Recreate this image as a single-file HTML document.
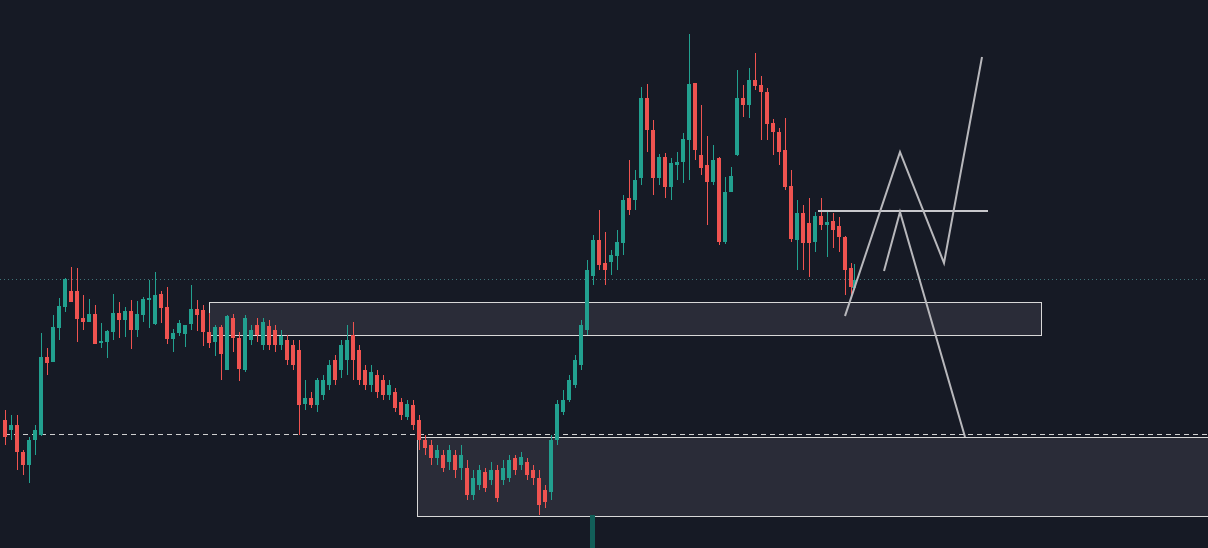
<!DOCTYPE html>
<html><head><meta charset="utf-8"><style>
html,body{margin:0;padding:0;background:#161a25;overflow:hidden}
svg{display:block}
</style></head><body>
<svg width="1208" height="548" xmlns="http://www.w3.org/2000/svg">
<rect width="1208" height="548" fill="#161a25"/>
<line x1="0" y1="279.5" x2="1208" y2="279.5" stroke="#3f7378" stroke-width="1" stroke-dasharray="1,3"/>
<rect x="209.5" y="302.5" width="832" height="33" fill="#2a2c38" stroke="#d8d8d8" stroke-width="1"/>
<rect x="417.5" y="437.5" width="791" height="79" fill="#2a2c38" stroke="#d8d8d8" stroke-width="1"/>
<line x1="5" y1="434.5" x2="1208" y2="434.5" stroke="#d0d0d0" stroke-width="1" stroke-dasharray="5,4"/>
<rect x="590" y="515" width="5" height="33" fill="#125e58"/>

<path fill="none" stroke="#22a08f" stroke-width="1" d="M11.5 415V440M29.5 437V483M35.5 425V455M41.5 333V436M53.5 315V362M59.5 298V340M65.5 278V312M89.5 299V322M101.5 323V348M107.5 330V358M113.5 294V340M125.5 307V337M137.5 301V337M143.5 297V322M149.5 280V328M155.5 272V325M173.5 329V352M179.5 320V336M185.5 325V347M191.5 285V330M215.5 325V356M227.5 315V370M245.5 315V372M251.5 325V345M263.5 318V350M281.5 330V350M305.5 380V410M317.5 378V412M323.5 375V400M329.5 360V390M341.5 340V378M347.5 325V375M371.5 365V392M389.5 380V400M407.5 400V420M437.5 445V465M449.5 445V470M461.5 445V480M473.5 470V500M479.5 465V490M491.5 462V485M503.5 460V485M509.5 455V482M521.5 452V470M551.5 435V500M557.5 400V445M563.5 390V415M569.5 375V402M575.5 355V388M581.5 320V370M587.5 260V335M593.5 235V285M611.5 250V275M617.5 230V270M623.5 195V255M635.5 170V210M641.5 87V185M659.5 154V185M671.5 158V200M677.5 152V180M683.5 133V183M689.5 34V180M713.5 145V185M725.5 177V244M731.5 167V192M737.5 70V156M749.5 68V118M797.5 200V270M815.5 212V252M827.5 210V257M854.5 264V290"/>
<path fill="#22a08f" d="M9 425h4V430h-4zM27 440h4V465h-4zM33 430h4V440h-4zM39 357h4V435h-4zM51 327h4V362h-4zM57 306h4V328h-4zM63 279h4V307h-4zM87 314h4V322h-4zM99 341h4V343h-4zM105 331h4V342h-4zM111 313h4V332h-4zM123 311h4V320h-4zM135 314h4V330h-4zM141 299h4V315h-4zM147 298h4V300h-4zM153 295h4V324h-4zM171 333h4V339h-4zM177 323h4V333h-4zM183 325h4V334h-4zM189 309h4V324h-4zM213 327h4V342h-4zM225 316h4V370h-4zM243 318h4V370h-4zM249 330h4V340h-4zM261 322h4V345h-4zM279 336h4V345h-4zM303 398h4V404h-4zM315 380h4V405h-4zM321 380h4V395h-4zM327 365h4V385h-4zM339 345h4V370h-4zM345 340h4V360h-4zM369 372h4V385h-4zM387 385h4V395h-4zM405 404h4V417h-4zM435 450h4V458h-4zM447 450h4V462h-4zM459 455h4V468h-4zM471 478h4V495h-4zM477 470h4V485h-4zM489 470h4V480h-4zM501 468h4V480h-4zM507 460h4V478h-4zM519 457h4V465h-4zM549 440h4V492h-4zM555 404h4V440h-4zM561 400h4V412h-4zM567 380h4V400h-4zM573 360h4V385h-4zM579 325h4V365h-4zM585 270h4V330h-4zM591 240h4V276h-4zM609 255h4V262h-4zM615 242h4V256h-4zM621 200h4V243h-4zM633 180h4V200h-4zM639 98h4V178h-4zM657 157h4V178h-4zM669 163h4V187h-4zM675 162h4V165h-4zM681 139h4V162h-4zM687 84h4V140h-4zM711 160h4V182h-4zM723 192h4V242h-4zM729 176h4V192h-4zM735 98h4V155h-4zM747 80h4V105h-4zM795 213h4V240h-4zM813 216h4V242h-4zM825 222h4V225h-4zM852 280h4V288h-4z"/>

<path fill="none" stroke="#ef5350" stroke-width="1" d="M5.5 410V445M17.5 415V470M23.5 450V475M47.5 348V375M71.5 267V300M77.5 268V342M83.5 295V330M95.5 305V344M119.5 302V338M131.5 300V349M161.5 291V323M167.5 287V344M197.5 300V331M203.5 305V346M209.5 313V348M221.5 325V380M233.5 314V352M239.5 332V381M257.5 318V342M269.5 320V350M275.5 325V352M287.5 335V365M293.5 340V370M299.5 340V435M311.5 392V408M335.5 355V385M353.5 322V380M359.5 345V385M365.5 365V390M377.5 370V398M383.5 375V400M395.5 388V412M401.5 398V420M413.5 400V430M419.5 415V450M425.5 435V455M431.5 440V465M443.5 450V472M455.5 450V478M467.5 460V500M485.5 468V492M497.5 465V502M515.5 455V475M527.5 458V480M533.5 465V485M539.5 470V515M545.5 485V508M599.5 210V270M605.5 232V285M629.5 160V215M647.5 84V152M653.5 120V195M665.5 153V198M695.5 83V160M701.5 105V175M707.5 136V225M719.5 157V245M743.5 85V117M755.5 53V90M761.5 76V140M767.5 88V140M773.5 119V155M779.5 128V165M785.5 118V190M791.5 170V242M803.5 205V270M809.5 198V277M821.5 198V230M833.5 213V248M839.5 217V252M845.5 236V295M851.5 263V295"/>
<path fill="#ef5350" d="M3 420h4V437h-4zM15 425h4V452h-4zM21 452h4V465h-4zM45 357h4V363h-4zM69 291h4V302h-4zM75 291h4V319h-4zM81 318h4V322h-4zM93 314h4V344h-4zM117 313h4V320h-4zM129 311h4V330h-4zM159 294h4V308h-4zM165 307h4V339h-4zM195 309h4V315h-4zM201 310h4V332h-4zM207 332h4V343h-4zM219 327h4V354h-4zM231 318h4V338h-4zM237 338h4V369h-4zM255 325h4V335h-4zM267 326h4V345h-4zM273 330h4V345h-4zM285 340h4V360h-4zM291 345h4V365h-4zM297 350h4V405h-4zM309 398h4V405h-4zM333 360h4V380h-4zM351 335h4V360h-4zM357 350h4V380h-4zM363 370h4V385h-4zM375 375h4V392h-4zM381 380h4V395h-4zM393 392h4V408h-4zM399 402h4V415h-4zM411 405h4V425h-4zM417 420h4V440h-4zM423 440h4V448h-4zM429 445h4V458h-4zM441 455h4V468h-4zM453 455h4V470h-4zM465 468h4V495h-4zM483 472h4V488h-4zM495 470h4V498h-4zM513 458h4V470h-4zM525 462h4V475h-4zM531 470h4V478h-4zM537 478h4V505h-4zM543 490h4V502h-4zM597 240h4V265h-4zM603 263h4V270h-4zM627 198h4V210h-4zM645 98h4V130h-4zM651 130h4V178h-4zM663 157h4V187h-4zM693 83h4V150h-4zM699 155h4V168h-4zM705 165h4V182h-4zM717 158h4V242h-4zM741 98h4V105h-4zM753 80h4V86h-4zM759 85h4V92h-4zM765 92h4V124h-4zM771 123h4V132h-4zM777 132h4V152h-4zM783 150h4V187h-4zM789 186h4V239h-4zM801 213h4V243h-4zM807 223h4V243h-4zM819 216h4V225h-4zM831 221h4V230h-4zM837 226h4V237h-4zM843 237h4V270h-4zM849 268h4V287h-4z"/>

<line x1="818" y1="211" x2="988" y2="211" stroke="#c8c8cc" stroke-width="2"/>
<polyline points="845,316 900,152 944,263 982,57" fill="none" stroke="#b8b8bc" stroke-width="2"/>
<polyline points="884,271 900,212 965,437" fill="none" stroke="#b8b8bc" stroke-width="2"/>
</svg>
</body></html>
